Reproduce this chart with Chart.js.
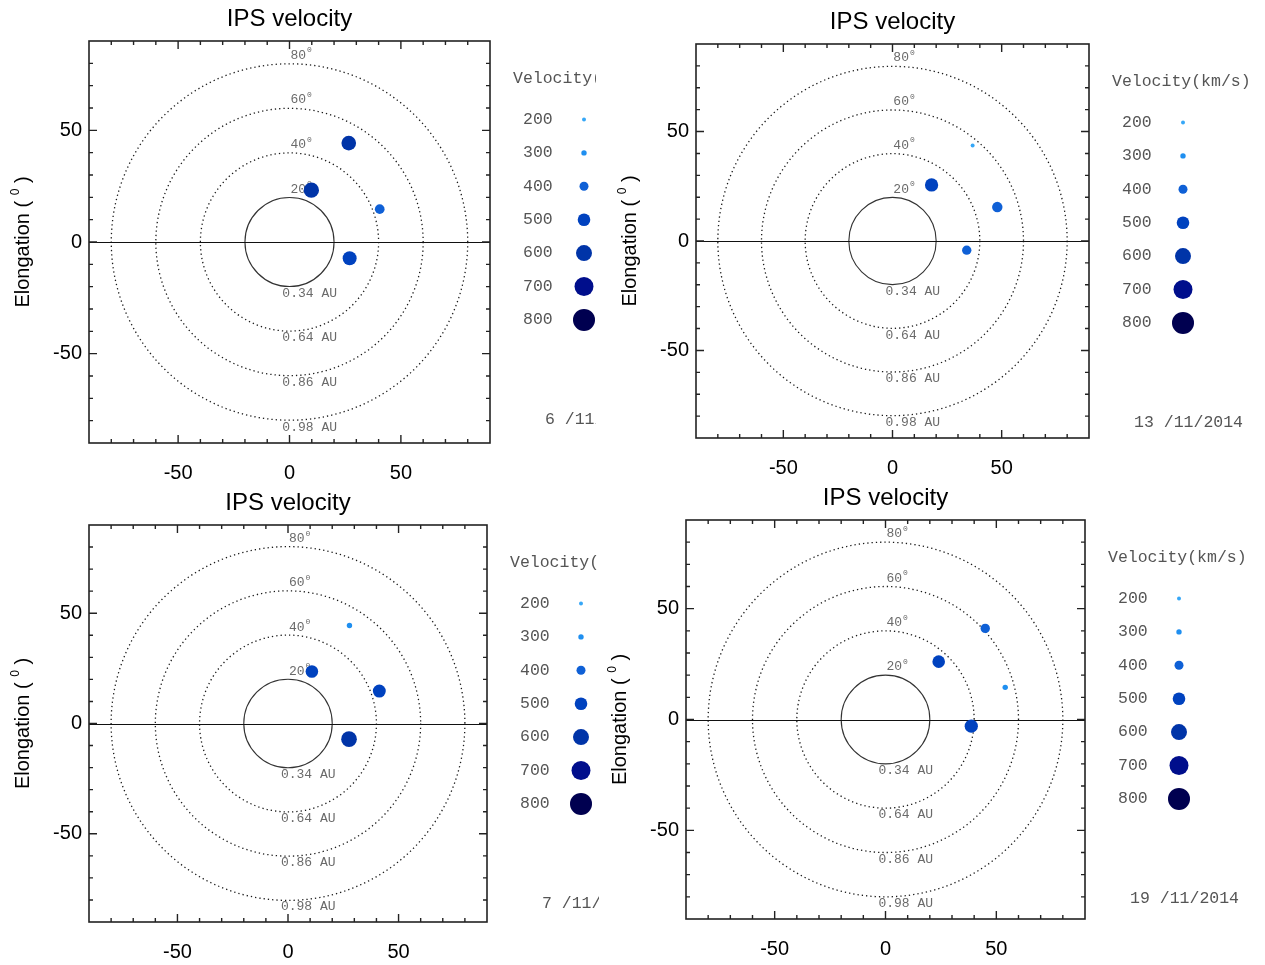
<!DOCTYPE html>
<html>
<head>
<meta charset="utf-8">
<title>IPS velocity</title>
<script src="https://cdn.jsdelivr.net/npm/chart.js@4.4.1/dist/chart.umd.min.js"></script>
<style>
  html, body { margin: 0; padding: 0; background: #fff; }
  #page { position: relative; width: 1265px; height: 965px; overflow: hidden; background: #fff; }
  .panel { position: absolute; overflow: hidden; background: #fff; }
  .panel canvas { display: block; }
</style>
</head>
<body>
<div id="page"></div>
<script>
// IPS velocity maps - four days, elongation plane (degrees)

// velocity scale used by the legend and the points
const levels = [200, 300, 400, 500, 600, 700, 800];
const levelRadius = [2, 2.7, 4.5, 6.3, 8, 9.5, 11];
const levelColors = ['#36a7f7', '#1f8ff0', '#0f60d6', '#0042bf', '#0034a8', '#000e8c', '#000050'];

// reference rings
const ringRadii = [20, 40, 60, 80];
const ringDeg = ['20', '40', '60', '80'];
const ringAu = ['0.34 AU', '0.64 AU', '0.86 AU', '0.98 AU'];
const tickValues = [-50, 0, 50];

const dates = ['6 /11/2014', '13 /11/2014', '7 /11/2014', '19 /11/2014'];

// sources per day: x, y (deg) and velocity (km/s)
const xNov6 = [26.6, 9.8, 40.5, 27.0];
const yNov6 = [44.3, 23.2, 14.7, -7.3];
const vNov6 = [560, 580, 420, 540];

const xNov13 = [36.7, 17.9, 48.0, 34.0];
const yNov13 = [43.6, 25.6, 15.5, -4.2];
const vNov13 = [200, 520, 440, 410];

const xNov7 = [27.8, 10.8, 41.3, 27.6];
const yNov7 = [44.4, 23.6, 14.7, -7.1];
const vNov7 = [300, 500, 510, 590];

const xNov19 = [45.0, 24.0, 54.0, 38.7];
const yNov19 = [41.1, 26.1, 14.5, -3.0];
const vNov19 = [410, 500, 300, 520];

// panel boxes on the page (plot frame in page pixels)
const panels = [
    { left: 0, top: 0, w: 596, h: 482, pl: 89, pr: 490, pt: 41, pb: 443, x: xNov6, y: yNov6, v: vNov6, date: dates[0] },
    { left: 600, top: 0, w: 665, h: 482, pl: 696, pr: 1089, pt: 44, pb: 438, x: xNov13, y: yNov13, v: vNov13, date: dates[1] },
    { left: 0, top: 482, w: 599, h: 483, pl: 89, pr: 487, pt: 525, pb: 922, x: xNov7, y: yNov7, v: vNov7, date: dates[2] },
    { left: 600, top: 482, w: 665, h: 483, pl: 686, pr: 1085, pt: 520, pb: 919, x: xNov19, y: yNov19, v: vNov19, date: dates[3] }
];

const Y_AXIS_W = 60;
const X_AXIS_H = 36;
const MONO = '"Liberation Mono", "DejaVu Sans Mono", monospace';
const SANS = '"Liberation Sans", Arial, sans-serif';

function radiusFor(v) {
    if (v <= levels[0]) return levelRadius[0];
    for (let i = 1; i < levels.length; i++) {
        if (v <= levels[i]) {
            const t = (v - levels[i - 1]) / (levels[i] - levels[i - 1]);
            return levelRadius[i - 1] + t * (levelRadius[i] - levelRadius[i - 1]);
        }
    }
    return levelRadius[levelRadius.length - 1];
}

function colorFor(v) {
    let idx = Math.round((v - levels[0]) / 100);
    idx = Math.max(0, Math.min(levels.length - 1, idx));
    return levelColors[idx];
}

function decorPlugin(p) {
    return {
        id: 'decor',
        beforeDatasetsDraw(chart) {
            const ctx = chart.ctx;
            const xs = chart.scales.x, ys = chart.scales.y;
            const cx = xs.getPixelForValue(0), cy = ys.getPixelForValue(0);
            const area = chart.chartArea;
            ctx.save();
            // rings
            ringRadii.forEach((r, i) => {
                const rp = xs.getPixelForValue(r) - cx;
                ctx.beginPath();
                ctx.arc(cx, cy, rp, 0, Math.PI * 2);
                if (i === 0) {
                    ctx.strokeStyle = '#333';
                    ctx.lineWidth = 1.1;
                    ctx.setLineDash([]);
                } else {
                    ctx.strokeStyle = '#1a1a1a';
                    ctx.lineWidth = 1.3;
                    ctx.setLineDash([1.3, 3]);
                }
                ctx.stroke();
            });
            ctx.setLineDash([]);
            // zero line
            ctx.beginPath();
            ctx.moveTo(area.left, Math.round(cy) + 0.5);
            ctx.lineTo(area.right, Math.round(cy) + 0.5);
            ctx.strokeStyle = '#111';
            ctx.lineWidth = 1.2;
            ctx.stroke();
            // ring labels
            ctx.fillStyle = '#6a6a6a';
            ctx.textBaseline = 'middle';
            ctx.textAlign = 'left';
            ringRadii.forEach((r, i) => {
                const ty = ys.getPixelForValue(r + 3.7);
                const tx = xs.getPixelForValue(0.4);
                ctx.font = '13px ' + MONO;
                ctx.fillText(ringDeg[i], tx, ty);
                const w = ctx.measureText(ringDeg[i]).width;
                ctx.font = '8px ' + MONO;
                ctx.fillText('0', tx + w + 1, ty - 5);
                ctx.font = '13px ' + MONO;
                ctx.fillText(ringAu[i], xs.getPixelForValue(-3.2), ys.getPixelForValue(-(r + 3)));
            });
            ctx.restore();
        },
        afterDraw(chart) {
            const ctx = chart.ctx;
            const xs = chart.scales.x, ys = chart.scales.y;
            const a = chart.chartArea;
            ctx.save();
            // frame
            ctx.strokeStyle = '#222';
            ctx.lineWidth = 1.6;
            ctx.strokeRect(a.left, a.top, a.right - a.left, a.bottom - a.top);
            // inward ticks every 10 deg
            ctx.lineWidth = 1.4;
            for (let v = -80; v <= 80; v += 10) {
                const len = (v % 50 === 0) ? 8 : 4;
                const px = xs.getPixelForValue(v);
                const py = ys.getPixelForValue(v);
                ctx.beginPath();
                ctx.moveTo(px, a.top); ctx.lineTo(px, a.top + len);
                ctx.moveTo(px, a.bottom); ctx.lineTo(px, a.bottom - len);
                ctx.moveTo(a.left, py); ctx.lineTo(a.left + len, py);
                ctx.moveTo(a.right, py); ctx.lineTo(a.right - len, py);
                ctx.stroke();
            }
            // title
            ctx.fillStyle = '#000';
            ctx.font = '24px ' + SANS;
            ctx.textAlign = 'center';
            ctx.textBaseline = 'middle';
            ctx.fillText('IPS velocity', (a.left + a.right) / 2, a.top - 22);
            // y axis title with superscript
            ctx.save();
            ctx.translate(a.left - 66, (a.top + a.bottom) / 2);
            ctx.rotate(-Math.PI / 2);
            const f1 = '20px ' + SANS, f2 = '12px ' + SANS;
            ctx.font = f1;
            const s1 = 'Elongation ( ', s3 = ' )';
            const w1 = ctx.measureText(s1).width, w3 = ctx.measureText(s3).width;
            ctx.font = f2;
            const w2 = ctx.measureText('0').width;
            let x0 = -(w1 + w2 + w3) / 2;
            ctx.textAlign = 'left';
            ctx.font = f1;
            ctx.fillText(s1, x0, 0);
            ctx.font = f2;
            ctx.fillText('0', x0 + w1, -7);
            ctx.font = f1;
            ctx.fillText(s3, x0 + w1 + w2, 0);
            ctx.restore();
            // legend
            ctx.fillStyle = '#555';
            ctx.font = '16.5px ' + MONO;
            ctx.textAlign = 'left';
            ctx.textBaseline = 'middle';
            ctx.fillText('Velocity(km/s)', a.right + 23, a.top + 37.5);
            levels.forEach((lv, i) => {
                const ry = a.top + 78.5 + i * 33.4;
                ctx.fillStyle = '#555';
                ctx.fillText(String(lv), a.right + 33, ry);
                ctx.beginPath();
                ctx.arc(a.right + 94, ry, levelRadius[i], 0, Math.PI * 2);
                ctx.fillStyle = levelColors[i];
                ctx.fill();
            });
            // date
            ctx.fillStyle = '#555';
            ctx.textAlign = 'right';
            ctx.fillText(p.date, a.right + 154, a.top + 379);
            ctx.restore();
        }
    };
}

function makePanel(p) {
    const wrap = document.createElement('div');
    wrap.className = 'panel';
    wrap.style.left = p.left + 'px';
    wrap.style.top = p.top + 'px';
    wrap.style.width = p.w + 'px';
    wrap.style.height = p.h + 'px';
    const canvas = document.createElement('canvas');
    const cw = 665, ch = p.h;
    canvas.width = cw;
    canvas.height = ch;
    canvas.style.width = cw + 'px';
    canvas.style.height = ch + 'px';
    wrap.appendChild(canvas);
    document.getElementById('page').appendChild(wrap);

    const pts = p.x.map((x, i) => ({ x: x, y: p.y[i], v: p.v[i] }));
    const padLeft = (p.pl - p.left) - Y_AXIS_W;
    const padRight = cw - (p.pr - p.left);
    const padTop = p.pt - p.top;
    const padBottom = ch - (p.pb - p.top) - X_AXIS_H;

    new Chart(canvas, {
        type: 'scatter',
        data: {
            datasets: [{
                data: pts,
                pointRadius: c => c.raw ? radiusFor(c.raw.v) : 3,
                pointHoverRadius: c => c.raw ? radiusFor(c.raw.v) : 3,
                pointBackgroundColor: c => c.raw ? colorFor(c.raw.v) : '#0042bf',
                pointBorderColor: c => c.raw ? colorFor(c.raw.v) : '#0042bf',
                pointBorderWidth: 0
            }]
        },
        options: {
            responsive: false,
            animation: false,
            events: [],
            layout: { padding: { left: padLeft, right: padRight, top: padTop, bottom: padBottom } },
            plugins: {
                legend: { display: false },
                tooltip: { enabled: false },
                title: { display: false }
            },
            scales: {
                x: {
                    type: 'linear',
                    min: -90,
                    max: 90,
                    grid: { display: false, drawTicks: false },
                    border: { display: false },
                    afterBuildTicks: s => { s.ticks = tickValues.map(v => ({ value: v })); },
                    afterFit: s => { s.height = X_AXIS_H; },
                    ticks: {
                        font: { family: SANS, size: 20 },
                        color: '#000',
                        padding: 18,
                        maxRotation: 0,
                        autoSkip: false
                    }
                },
                y: {
                    type: 'linear',
                    min: -90,
                    max: 90,
                    grid: { display: false, drawTicks: false },
                    border: { display: false },
                    afterBuildTicks: s => { s.ticks = tickValues.map(v => ({ value: v })); },
                    afterFit: s => { s.width = Y_AXIS_W; },
                    ticks: {
                        font: { family: SANS, size: 20 },
                        color: '#000',
                        padding: 7,
                        autoSkip: false
                    }
                }
            }
        },
        plugins: [decorPlugin(p)]
    });
}

panels.forEach(makePanel);
</script>
</body>
</html>
